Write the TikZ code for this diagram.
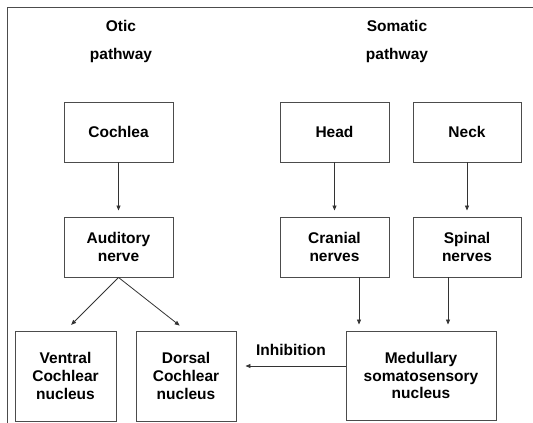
\documentclass[tikz,border=0pt]{standalone}
\usepackage{fontspec}
\setmainfont{Liberation Sans}
\usetikzlibrary{arrows.meta}
\begin{document}
\begin{tikzpicture}[x=1pt,y=-1pt,
  box/.style={draw=black!70,line width=0.9pt,align=center,inner sep=0pt,
    font=\fontsize{15.5}{17.8}\selectfont\bfseries},
  ttl/.style={font=\fontsize{15.5}{17.8}\selectfont\bfseries,inner sep=0pt},
  arr/.style={draw=black!80,line width=0.8pt,-{Triangle[length=5pt,width=4pt]}}]
\useasboundingbox (0,0) rectangle (533,423);
\draw[black!70,line width=0.9pt] (7,423) -- (7,7) -- (533,7);
\node[ttl] (t1) at (121,26) {Otic};
\node[ttl] (t2) at (121,55) {pathway};
\node[ttl] (t3) at (397,26) {Somatic};
\node[ttl] (t4) at (397,55) {pathway};
\node[box,minimum width=109pt,minimum height=60pt] (coch) at (118.5,132) {Cochlea};
\node[box,minimum width=109pt,minimum height=60pt] (head) at (334.5,132) {Head};
\node[box,minimum width=108pt,minimum height=60pt] (neck) at (467,132) {Neck};
\node[box,minimum width=109pt,minimum height=60pt] (aud) at (118.5,247) {Auditory\\nerve};
\node[box,minimum width=109pt,minimum height=60pt] (cran) at (334.5,247) {Cranial\\nerves};
\node[box,minimum width=108pt,minimum height=60pt] (spin) at (467,247) {Spinal\\nerves};
\node[box,minimum width=101pt,minimum height=90pt] (vent) at (65.5,376) {Ventral\\Cochlear\\nucleus};
\node[box,minimum width=100pt,minimum height=90pt] (dors) at (186,376) {Dorsal\\Cochlear\\nucleus};
\node[box,minimum width=150pt,minimum height=89pt] (med) at (421,375.5) {Medullary\\somatosensory\\nucleus};
\draw[arr,shorten >=6pt] (coch.south) -- (aud.north);
\draw[arr,shorten >=6pt] (head.south) -- (cran.north);
\draw[arr,shorten >=6pt] (neck.south) -- (spin.north);
\draw[arr,shorten >=8pt] (aud.south) -- (vent.north);
\draw[arr,shorten >=8pt] (aud.south) -- (dors.north);
\draw[arr,shorten >=6pt] ([xshift=24.5pt]cran.south) -- ([xshift=24.5pt]cran.south |- med.north);
\draw[arr,shorten >=6pt] ([xshift=-19pt]spin.south) -- ([xshift=-19pt]spin.south |- med.north);
\draw[arr,shorten >=9pt] ([yshift=9.5pt]med.west) -- ([yshift=9.5pt]med.west -| dors.east)
  node[pos=0.5,above=10pt,ttl] (inh) {Inhibition};
\end{tikzpicture}
\end{document}
